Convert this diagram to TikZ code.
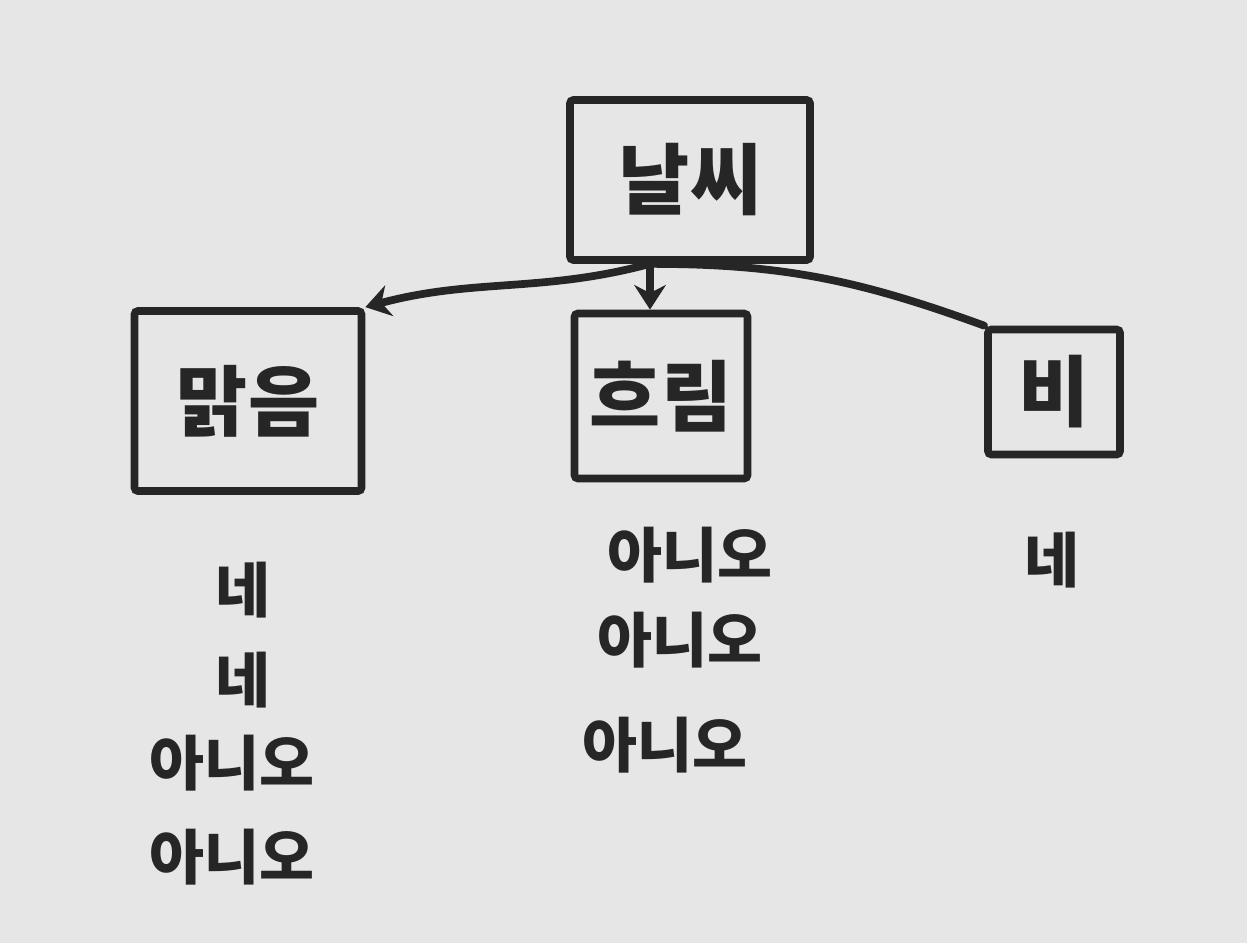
\documentclass[tikz,border=0pt]{standalone}
\usepackage{fontspec}
\newfontfamily\kr{Noto Sans CJK KR}
\usepackage{tikz}
\usetikzlibrary{arrows.meta}

\definecolor{ink}{HTML}{262626}
\definecolor{paper}{HTML}{E6E6E6}

\begin{document}
\begin{tikzpicture}[scale=1,
  box/.style={draw=ink, line width=2.2pt, rounded corners=1pt, inner sep=0pt,
    text=ink, font=\kr\bfseries\fontsize{22}{26}\selectfont},
  ans/.style={text=ink, font=\kr\bfseries\fontsize{17}{20}\selectfont},
  link/.style={draw=ink, line width=2.2pt, line cap=round}]
\fill[paper] (0,0) rectangle (12.47,9.43);
\useasboundingbox (0,0) rectangle (12.47,9.43);
% boxes
\node[box, minimum width=2.4cm, minimum height=1.6cm] (weather) at (6.9,7.63) {날씨};
\node[box, minimum width=2.27cm, minimum height=1.8cm] (sunny) at (2.48,5.42) {맑음};
\node[box, minimum width=1.73cm, minimum height=1.65cm] (cloudy) at (6.61,5.47) {흐림};
\node[box, minimum width=1.32cm, minimum height=1.25cm] (rain) at (10.54,5.51) {비};
% connectors
\coordinate (W) at ([xshift=-0.4cm]weather.south);
\draw[link, -{Stealth[length=7pt, width=9pt]}] (W) to[out=195, in=15] (sunny.north east);
\draw[link, -{Stealth[length=7pt, width=9pt]}] (W) -- (W |- cloudy.north);
\draw[link] (W) to[out=0, in=160] (rain.north west);
% answers
\node[ans] (s1) at (2.43,3.53) {네};
\node[ans] (s2) at (2.43,2.63) {네};
\node[ans] (s3) at (2.32,1.80) {아니오};
\node[ans] (s4) at (2.32,0.86) {아니오};
\node[ans] (c1) at (6.90,3.88) {아니오};
\node[ans] (c2) at (6.80,3.03) {아니오};
\node[ans] (c3) at (6.65,1.98) {아니오};
\node[ans] (r1) at (10.52,3.83) {네};
\end{tikzpicture}
\end{document}
